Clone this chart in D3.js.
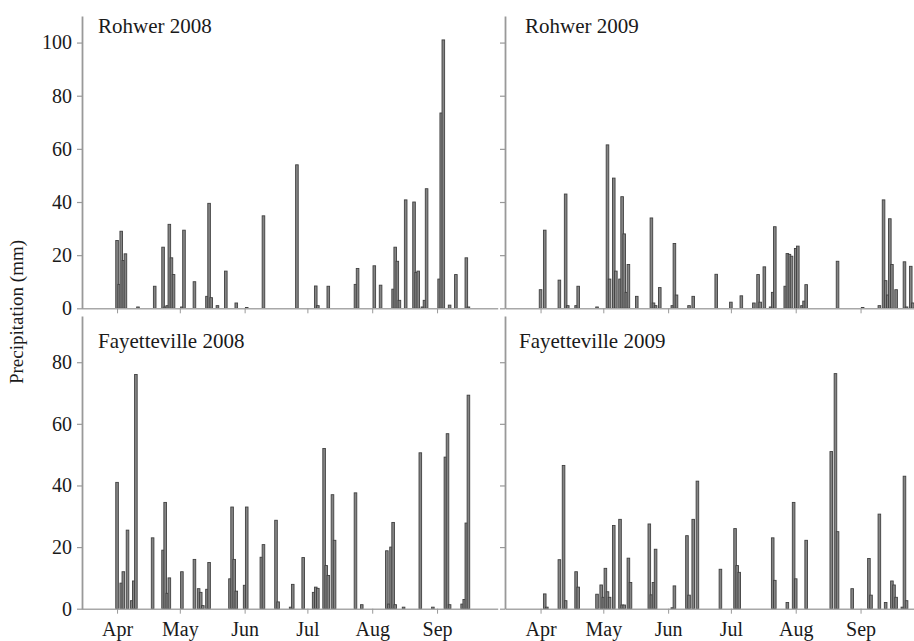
<!DOCTYPE html>
<html><head><meta charset="utf-8">
<script src="https://cdn.jsdelivr.net/npm/d3@7"></script>
<style>
body{margin:0;background:#fff}
svg{display:block}
text{font-family:"Liberation Serif","Times New Roman",serif;fill:#1a1a1a}
</style>
</head><body>
<svg id="chart" width="914" height="641"></svg>
<script>
// ---------------- DATA ----------------
const monthTicks = ["04-01","05-01","06-01","07-01","08-01","09-01"];
const topYTicks = [0,20,40,60,80,100];
const bottomYTicks = [0,20,40,60,80];
const yLabel = "Precipitation (mm)";

const rohwer2008Dates = ["04-01","04-02","04-03","04-04","04-05","04-11","04-19","04-23","04-24","04-25","04-26","04-27","04-28","05-02","05-03","05-08","05-14","05-15","05-16","05-19","05-23","05-28","06-02","06-10","06-26","07-05","07-06","07-11","07-24","07-25","08-02","08-05","08-11","08-12","08-13","08-14","08-17","08-21","08-22","08-23","08-25","08-26","08-27","09-02","09-03","09-04","09-07","09-10","09-15","09-16"];
const rohwer2008Values = [25.5,9,29,18,20.5,0.5,8.3,23,0.5,1,31.6,19,12.7,0.5,29.4,10,4.5,39.5,4,1,14,2,0.3,34.8,54,8.4,1,8.3,9,15,16,8.7,7.2,23,17.7,3,40.8,40,13.5,14,0.5,3,45,11,73.5,101,1.2,12.7,19,0.5];

const rohwer2009Dates = ["04-01","04-03","04-10","04-13","04-14","04-18","04-19","04-28","05-03","05-04","05-06","05-07","05-09","05-10","05-11","05-12","05-13","05-17","05-24","05-25","05-26","05-28","06-03","06-04","06-05","06-11","06-13","06-24","07-01","07-06","07-12","07-14","07-15","07-17","07-20","07-21","07-22","07-27","07-28","07-29","07-30","08-01","08-02","08-04","08-05","08-06","08-21","09-02","09-10","09-12","09-13","09-14","09-15","09-16","09-18","09-22","09-23","09-25","09-26"];
const rohwer2009Values = [7,29.4,10.6,43,1,1,8.3,0.5,61.5,11,49,14,11,42,28,6,16.5,4.5,34,2,1,7.8,1,24.4,5,1,4.5,12.8,2.3,4.7,2,12.7,2.3,15.6,0.5,6,30.7,8.3,20.6,20.3,19.6,22.5,23.4,1,2.7,8.9,17.7,0.3,1,40.8,10.4,5,33.7,16.5,7,17.5,0.5,15.8,2];

const fayetteville2008Dates = ["04-01","04-03","04-04","04-06","04-08","04-09","04-10","04-18","04-23","04-24","04-25","04-26","05-02","05-08","05-10","05-11","05-12","05-14","05-15","05-25","05-26","05-27","05-28","06-01","06-02","06-09","06-10","06-16","06-17","06-23","06-24","06-29","07-04","07-05","07-06","07-09","07-10","07-11","07-13","07-14","07-24","07-27","08-08","08-09","08-10","08-11","08-12","08-16","08-24","08-30","09-05","09-06","09-07","09-13","09-14","09-15","09-16"];
const fayetteville2008Values = [41,8.3,12,25.5,2.6,9,76,23,19,34.5,5,10,12,16,6.5,5.3,1,6.3,15,9.7,33,16,5.7,7.6,33,16.7,20.8,28.7,2.2,0.5,7.9,16.6,5.3,7,6.6,52,14,10.8,37,22.2,37.6,1.3,18.8,1.5,20,28,1.3,0.5,50.6,0.5,49.2,56.8,1.3,1.5,3,27.8,69.3];

const fayetteville2009Dates = ["04-03","04-04","04-10","04-12","04-13","04-18","04-19","04-28","04-30","05-01","05-02","05-03","05-04","05-06","05-09","05-10","05-11","05-13","05-14","05-23","05-24","05-25","05-26","06-03","06-04","06-10","06-11","06-13","06-15","06-26","07-03","07-04","07-05","07-21","07-22","07-28","07-31","08-01","08-06","08-18","08-20","08-21","08-28","09-05","09-06","09-10","09-13","09-16","09-17","09-18","09-21","09-22","09-23"];
const fayetteville2009Values = [4.8,0.5,15.9,46.5,2.6,12,7,4.7,7.7,3.7,13.1,5.5,3.7,27,29,1.2,1.2,16.4,8.5,27.5,4.5,8.5,19.3,0.3,7.4,23.7,4.4,29,41.4,12.8,26,14,11.8,23,9.2,2,34.5,9.7,22.2,51,76.3,25,6.5,16.3,4.4,30.7,2,9,7.7,3.7,0.5,43,2.6];

// ---------------- LAYOUT ----------------
const svg = d3.select("#chart");
const panelWidth = 416.2;
const leftX0 = 81.5, rightX0 = 505;
const topRows = {y0: 308.3, y1: 16, max: 110, ticks: topYTicks};
const botRows = {y0: 608.7, y1: 316, max: 95, ticks: bottomYTicks};

const panels = [
  {title:"Rohwer 2008", year:2008, dates:rohwer2008Dates, values:rohwer2008Values, x0:leftX0, row:topRows, labelsY:true, labelsX:false, tx:98, ty:33},
  {title:"Rohwer 2009", year:2009, dates:rohwer2009Dates, values:rohwer2009Values, x0:rightX0, row:topRows, labelsY:false, labelsX:false, tx:525, ty:33},
  {title:"Fayetteville 2008", year:2008, dates:fayetteville2008Dates, values:fayetteville2008Values, x0:leftX0, row:botRows, labelsY:true, labelsX:true, tx:98, ty:348},
  {title:"Fayetteville 2009", year:2009, dates:fayetteville2009Dates, values:fayetteville2009Values, x0:rightX0, row:botRows, labelsY:false, labelsX:true, tx:519, ty:348}
];

const parse = d3.utcParse("%Y-%m-%d");

panels.forEach(p => {
  const x = d3.scaleUtc()
    .domain([parse(p.year + "-03-15"), parse(p.year + "-09-30")])
    .range([p.x0, p.x0 + panelWidth]);
  const y = d3.scaleLinear().domain([0, p.row.max]).range([p.row.y0, p.row.y1]);
  const g = svg.append("g");

  const data = p.dates.map((d, i) => ({date: parse(p.year + "-" + d), v: p.values[i]}));

  // bars
  const bw = 2.6;
  g.append("g").selectAll("rect").data(data).join("rect")
    .attr("x", d => x(d.date) - bw / 2)
    .attr("width", bw)
    .attr("y", d => y(d.v))
    .attr("height", d => y(0) - y(d.v))
    .attr("fill", "#858585")
    .attr("stroke", "#404040")
    .attr("stroke-width", 0.9);

  // x axis
  const xAxis = d3.axisBottom(x)
    .tickValues(monthTicks.map(m => parse(p.year + "-" + m)))
    .tickSize(5).tickSizeOuter(0).tickPadding(8)
    .tickFormat(p.labelsX ? d3.utcFormat("%b") : () => "");
  const gx = g.append("g").attr("transform", `translate(0,${p.row.y0})`).call(xAxis);
  gx.select(".domain").attr("stroke", "#a8a8a8").attr("stroke-width", 1.5);
  gx.selectAll(".tick line").attr("stroke", "#999").attr("stroke-width", 1);
  gx.selectAll("text").attr("font-size", 20).attr("font-family", "Liberation Serif").attr("fill", "#1a1a1a");

  // y axis
  const axisX = p.x0 === leftX0 ? 82 : 505;
  const yAxis = d3.axisLeft(y).tickValues(p.row.ticks)
    .tickSize(5).tickSizeOuter(0).tickPadding(5)
    .tickFormat(p.labelsY ? d3.format("d") : () => "");
  const gy = g.append("g").attr("transform", `translate(${axisX},0)`).call(yAxis);
  gy.select(".domain").attr("stroke", "#999").attr("stroke-width", 1.8);
  gy.selectAll(".tick line").attr("stroke", "#999").attr("stroke-width", 1.2);
  gy.selectAll("text").attr("font-size", 20).attr("font-family", "Liberation Serif").attr("fill", "#1a1a1a");

  // title
  g.append("text").attr("x", p.tx).attr("y", p.ty)
    .attr("font-size", 21).text(p.title);
});

svg.append("text")
  .attr("transform", "translate(23,312) rotate(-90)")
  .attr("text-anchor", "middle")
  .attr("font-size", 19)
  .text(yLabel);
</script>
</body></html>
